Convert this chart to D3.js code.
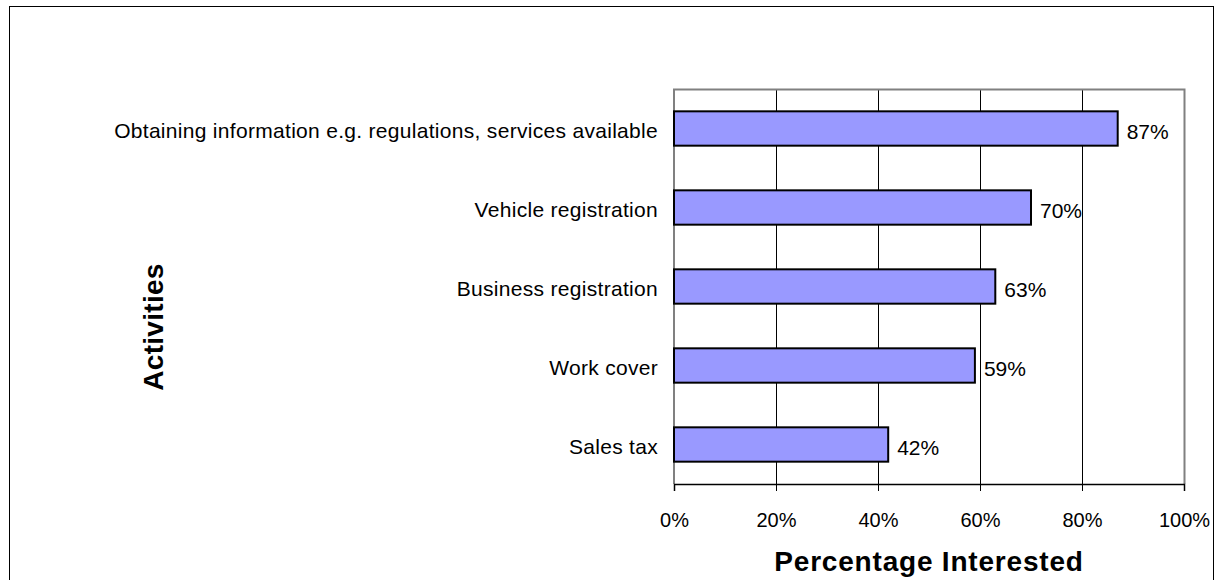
<!DOCTYPE html>
<html>
<head>
<meta charset="utf-8">
<script src="https://cdn.jsdelivr.net/npm/d3@7"></script>
<style>
  html, body { margin: 0; padding: 0; background: #fff; }
  svg { display: block; font-family: "Liberation Sans", Arial, sans-serif; }
</style>
</head>
<body>
<svg id="chart" width="1216" height="580"></svg>
<script>
// Share of respondents interested in each online activity
const activities = [
  "Obtaining information e.g. regulations, services available",
  "Vehicle registration",
  "Business registration",
  "Work cover",
  "Sales tax"
];
const interested = [0.87, 0.70, 0.63, 0.59, 0.42];
const xTicks = [0, 0.2, 0.4, 0.6, 0.8, 1.0];

const svg = d3.select("#chart");

// outer chart frame
svg.append("rect")
  .attr("x", 9.5).attr("y", 6.5)
  .attr("width", 1204).attr("height", 600)
  .attr("fill", "none").attr("stroke", "#000").attr("stroke-width", 1);

const plot = { left: 674, right: 1184, top: 89, bottom: 484 };

const x = d3.scaleLinear().domain([0, 1]).range([plot.left, plot.right]);
const y = d3.scaleBand().domain(activities).range([plot.top, plot.bottom])
  .paddingInner(1.3 / 2.3).paddingOuter(1.3 / 4.6);

// vertical gridlines
svg.append("g").selectAll("line")
  .data(xTicks.slice(1, -1))
  .join("line")
  .attr("x1", d => Math.round(x(d)) + 0.5).attr("x2", d => Math.round(x(d)) + 0.5)
  .attr("y1", plot.top).attr("y2", plot.bottom)
  .attr("stroke", "#000").attr("stroke-width", 1);

// plot area border (top, right, left in grey)
svg.append("path")
  .attr("d", `M${plot.left},${plot.bottom} V${plot.top + 0.5} H${plot.right + 0.5} V${plot.bottom}`)
  .attr("fill", "none").attr("stroke", "#808080").attr("stroke-width", 2);

// bars
svg.append("g").selectAll("rect")
  .data(activities)
  .join("rect")
  .attr("x", plot.left)
  .attr("y", d => y(d))
  .attr("width", (d, i) => x(interested[i]) - x(0))
  .attr("height", y.bandwidth())
  .attr("fill", "#9999FF")
  .attr("stroke", "#000").attr("stroke-width", 2);

// x axis
const xAxis = d3.axisBottom(x)
  .tickValues(xTicks)
  .tickFormat(d3.format(".0%"))
  .tickSize(7)
  .tickPadding(22);
const gx = svg.append("g")
  .attr("transform", `translate(0,${plot.bottom})`)
  .call(xAxis);
gx.select(".domain").attr("stroke", "#000").attr("stroke-width", 1.5);
gx.selectAll(".tick line").attr("stroke", "#000").attr("stroke-width", 1);
gx.selectAll(".tick text")
  .attr("font-size", 20).attr("fill", "#000")
  .attr("font-family", "Liberation Sans, Arial, sans-serif");

// category labels
svg.append("g").selectAll("text")
  .data(activities)
  .join("text")
  .attr("x", plot.left - 16)
  .attr("y", d => y(d) + y.bandwidth() / 2)
  .attr("dy", "0.45em")
  .attr("text-anchor", "end")
  .attr("font-size", 21)
  .attr("letter-spacing", 0.3)
  .text(d => d);

// value labels
svg.append("g").selectAll("text")
  .data(activities)
  .join("text")
  .attr("x", (d, i) => x(interested[i]) + 9)
  .attr("y", d => y(d) + y.bandwidth() / 2)
  .attr("dy", "0.5em")
  .attr("font-size", 21)
  .text((d, i) => d3.format(".0%")(interested[i]));

// axis titles
svg.append("text")
  .attr("x", (plot.left + plot.right) / 2)
  .attr("y", 571)
  .attr("text-anchor", "middle")
  .attr("font-size", 28).attr("font-weight", "bold")
  .attr("letter-spacing", 0.8)
  .text("Percentage Interested");

svg.append("text")
  .attr("transform", `translate(163,327) rotate(-90)`)
  .attr("text-anchor", "middle")
  .attr("font-size", 28).attr("font-weight", "bold")
  .attr("letter-spacing", 0.3)
  .text("Activities");
</script>
</body>
</html>
